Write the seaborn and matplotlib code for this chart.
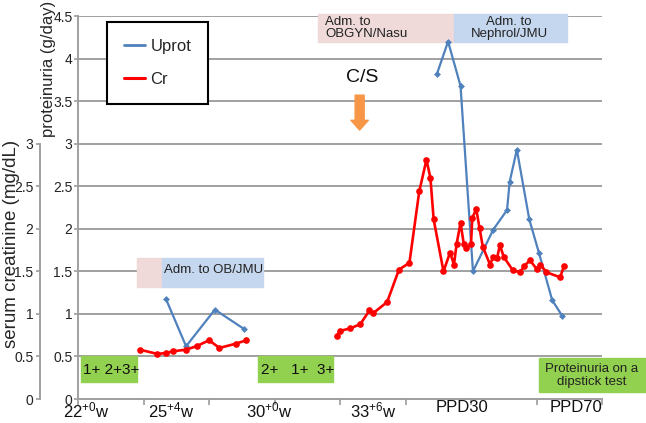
import numpy as np
import pandas as pd
import matplotlib.pyplot as plt
import seaborn as sns
from matplotlib.patches import Rectangle
from matplotlib.lines import Line2D
from matplotlib.ticker import FormatStrFormatter

sns.set_theme(style='white')
plt.rcParams['font.family'] = ['Liberation Sans', 'DejaVu Sans']
plt.rcParams['mathtext.default'] = 'regular'

# time axis of the original is a category axis: 1 unit = one tick interval (0 = 22+0w)
# serum creatinine (mg/dL)
cr_t1 = [0.94, 1.21, 1.34, 1.45, 1.65, 1.81, 2.00, 2.16, 2.41, 2.57]
cr_v1 = [0.58, 0.53, 0.54, 0.56, 0.58, 0.62, 0.69, 0.60, 0.65, 0.69]
cr_t2 = [3.95, 4.00, 4.16, 4.31, 4.45, 4.51, 4.72, 4.90, 5.06, 5.21, 5.32, 5.38, 5.43,
         5.58, 5.68, 5.74, 5.78, 5.84, 5.89, 5.93, 6.00, 6.02, 6.08, 6.13, 6.18, 6.29,
         6.34, 6.40, 6.44, 6.50, 6.64, 6.75, 6.81, 6.90, 7.00, 7.06, 7.15, 7.36, 7.42]
cr_v2 = [0.74, 0.80, 0.83, 0.88, 1.04, 1.01, 1.14, 1.52, 1.60, 2.44, 2.81, 2.60, 2.11,
         1.50, 1.72, 1.58, 1.82, 2.07, 1.82, 1.77, 1.82, 2.13, 2.23, 2.01, 1.79, 1.58,
         1.67, 1.66, 1.81, 1.67, 1.51, 1.49, 1.56, 1.63, 1.53, 1.58, 1.49, 1.43, 1.56]

# proteinuria (g/day)
up_t1 = [1.34, 1.65, 2.09, 2.54]
up_v1 = [1.18, 0.62, 1.05, 0.82]
up_t2 = [5.48, 5.65, 5.84, 6.03, 6.34, 6.55, 6.59, 6.70, 6.89, 7.04, 7.24, 7.39]
up_v2 = [3.82, 4.20, 3.68, 1.50, 1.99, 2.22, 2.55, 2.93, 2.11, 1.71, 1.16, 0.98]

xtick_pos = [0.13, 1.42, 2.92, 4.51, 5.86, 7.6]
xtick_labels = ['22$^{+0}$w', '25$^{+4}$w', '30$^{+0}$w', '33$^{+6}$w', 'PPD30', 'PPD70']

cr_df = pd.DataFrame({'t': cr_t1 + cr_t2, 'v': cr_v1 + cr_v2,
                      'seg': [1] * len(cr_t1) + [2] * len(cr_t2)})
up_df = pd.DataFrame({'t': up_t1 + up_t2, 'v': up_v1 + up_v2,
                      'seg': [1] * len(up_t1) + [2] * len(up_t2)})

blue = '#4f81bd'
red = '#ff0000'
grid_c = '#a0a0a0'

fig = plt.figure(figsize=(6.46, 4.23), dpi=100)
ax = fig.add_axes([78 / 646, 24 / 423, 524 / 646, 383 / 423])

sns.lineplot(data=up_df, x='t', y='v', units='seg', estimator=None, sort=False,
             color=blue, lw=1.6, marker='D', markersize=3.5, markeredgewidth=0,
             legend=False, ax=ax, zorder=3)
sns.lineplot(data=cr_df, x='t', y='v', units='seg', estimator=None, sort=False,
             color=red, lw=1.9, marker='o', markersize=4.8, markeredgewidth=0,
             legend=False, ax=ax, zorder=4)

ax.set_xlim(0, 8)
ax.set_ylim(0, 4.5)
ax.set_yticks(np.arange(0, 4.51, 0.5))
ax.yaxis.set_major_formatter(FormatStrFormatter('%g'))
ax.yaxis.grid(True, color=grid_c, lw=1.4)
ax.set_axisbelow(True)
for s in ['top', 'right']:
    ax.spines[s].set_visible(False)
for s in ['left', 'bottom']:
    ax.spines[s].set_color(grid_c)
    ax.spines[s].set_linewidth(1.4)
ax.set_xticks(range(9))
ax.set_xticklabels([])
ax.set_xticks(xtick_pos, xtick_labels, minor=True)
ax.tick_params(axis='x', which='major', bottom=True, length=4, color=grid_c)
ax.tick_params(axis='x', which='minor', bottom=True, length=0, labelsize=12, pad=1,
               labelcolor='#111111')
ax.tick_params(axis='y', left=True, length=3, color=grid_c, labelsize=10, pad=1,
               labelcolor='#222222')
ax.set_xlabel('')
ax.set_ylabel('proteinuria (g/day)', fontsize=12)
ax.yaxis.set_label_coords(-0.042, 0.862)

# second (creatinine) axis on the far left, same scale
ax2 = ax.twinx()
ax2.set_ylim(0, 4.5)
ax2.yaxis.tick_left()
ax2.yaxis.set_label_position('left')
for s in ['top', 'right', 'bottom']:
    ax2.spines[s].set_visible(False)
ax2.spines['left'].set_visible(True)
ax2.spines['left'].set_position(('outward', 27.5))
ax2.spines['left'].set_bounds(0, 3)
ax2.spines['left'].set_color(grid_c)
ax2.spines['left'].set_linewidth(1.4)
ax2.set_yticks(np.arange(0, 3.01, 0.5))
ax2.yaxis.set_major_formatter(FormatStrFormatter('%g'))
ax2.tick_params(axis='y', left=True, length=3, color=grid_c, labelsize=10, pad=1.5,
                labelcolor='#222222')
ax2.grid(False)
ax2.set_ylabel('serum creatinine (mg/dL)', fontsize=13.5)
ax2.yaxis.set_label_coords(-0.111, 0.406)

# admission periods
pink = '#efd9d9'
lblue = '#c5d7ee'
ax.add_patch(Rectangle((3.67, 4.19), 2.07, 0.33, color=pink, clip_on=False, zorder=2))
ax.add_patch(Rectangle((5.74, 4.19), 1.73, 0.33, color=lblue, clip_on=False, zorder=2))
ax.text(3.77, 4.355, 'Adm. to\nOBGYN/Nasu', fontsize=9.5, ha='left', va='center',
        linespacing=1.0, color='#222222', zorder=5)
ax.text(6.58, 4.355, 'Adm. to\nNephrol/JMU', fontsize=9.5, ha='center', va='center',
        linespacing=1.0, color='#222222', zorder=5)

ax.add_patch(Rectangle((0.90, 1.32), 0.39, 0.34, color=pink, zorder=2))
ax.add_patch(Rectangle((1.29, 1.32), 1.53, 0.34, color=lblue, zorder=2))
ax.text(1.31, 1.52, 'Adm. to OB/JMU', fontsize=9.5, ha='left', va='center',
        color='#222222', zorder=5)

# Caesarean section marker
ax.text(4.34, 3.78, 'C/S', fontsize=14, ha='center', va='center', color='#111111')
ax.annotate('', xy=(4.30, 3.16), xytext=(4.30, 3.57),
            arrowprops=dict(arrowstyle='simple,head_length=0.7,head_width=1.25,tail_width=0.65',
                            mutation_scale=10, color='#f79646', shrinkA=0, shrinkB=0))

# dipstick proteinuria boxes
green = '#92d050'
ax.add_patch(Rectangle((0.05, 0.2), 0.85, 0.30, color=green, clip_on=False, zorder=2))
ax.text(0.08, 0.345, '1+ 2+3+', fontsize=11, ha='left', va='center', color='#111111')
ax.add_patch(Rectangle((2.75, 0.2), 1.15, 0.30, color=green, clip_on=False, zorder=2))
ax.text(2.80, 0.345, '2+   1+  3+', fontsize=11, ha='left', va='center', color='#111111')
ax.add_patch(Rectangle((7.04, 0.08), 1.65, 0.40, color=green, clip_on=False, zorder=2))
ax.text(7.84, 0.28, 'Proteinuria on a\ndipstick test', fontsize=9.5, ha='center',
        va='center', linespacing=1.1, color='#222222', clip_on=False)

handles = [Line2D([], [], color=blue, lw=2), Line2D([], [], color=red, lw=2.2)]
leg = ax.legend(handles, ['Uprot', 'Cr'], loc='upper left',
                bbox_to_anchor=(107 / 646, 1 - 22 / 423), bbox_transform=fig.transFigure,
                fontsize=12, frameon=True, fancybox=False, handlelength=1.3,
                handletextpad=0.3, labelspacing=1.1, borderpad=1.0, borderaxespad=0)
leg.get_frame().set_edgecolor('black')
leg.get_frame().set_linewidth(1.5)
leg.get_frame().set_alpha(1)

fig.savefig('out.png', dpi=100)
